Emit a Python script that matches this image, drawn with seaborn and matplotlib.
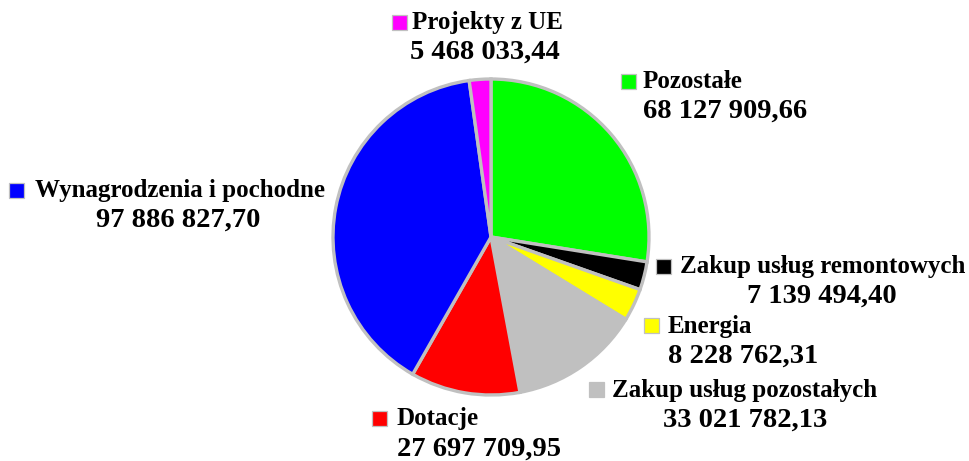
import matplotlib
matplotlib.use('Agg')
import matplotlib.pyplot as plt
from matplotlib.patches import Rectangle
import seaborn as sns

sns.set_theme(style='white')
plt.rcParams['font.family'] = ['Liberation Serif', 'DejaVu Serif']

categories = ['Pozostałe', 'Zakup usług remontowych', 'Energia', 'Zakup usług pozostałych',
              'Dotacje', 'Wynagrodzenia i pochodne', 'Projekty z UE']
values = [68127909.66, 7139494.40, 8228762.31, 33021782.13, 27697709.95, 97886827.70, 5468033.44]
colors = ['#00ff00', '#000000', '#ffff00', '#c0c0c0', '#ff0000', '#0000ff', '#ff00ff']

# label layout in pixel coordinates (from top-left): marker x, name left x, line-1 y, value x, line-2 y, value alignment
label_layout = {
    'Pozostałe':                (629, 643, 81, 643, 111, 'left'),
    'Zakup usług remontowych':  (664, 680, 266, 822, 296, 'center'),
    'Energia':                  (652, 668, 326, 668, 356, 'left'),
    'Zakup usług pozostałych':  (597, 612, 390, 745, 420, 'center'),
    'Dotacje':                  (380, 397, 419, 397, 449, 'left'),
    'Wynagrodzenia i pochodne': (17, 35, 190, 178, 220, 'center'),
    'Projekty z UE':            (400, 412, 22, 485, 52, 'center'),
}

W, H = 970, 461
fig = plt.figure(figsize=(W / 100, H / 100), dpi=100)
ax = fig.add_axes([0, 0, 1, 1])
ax.pie(values, colors=colors, startangle=90, counterclock=False,
       center=(491, H - 237), radius=158,
       wedgeprops=dict(edgecolor='#c0c0c0', linewidth=2.4))
ax.set_xlim(0, W)
ax.set_ylim(0, H)
ax.set_aspect('equal')
ax.axis('off')


def fmt(v):
    return f"{v:,.2f}".replace(',', ' ').replace('.', ',')


for cat, val, col in zip(categories, values, colors):
    mx, nx, y1, vx, y2, ha = label_layout[cat]
    ax.add_patch(Rectangle((mx - 7.5, H - y1 - 7.5), 15, 15, facecolor=col,
                           edgecolor='#c0c0c0', linewidth=0.9, zorder=3))
    ax.text(nx, H - y1, cat, ha='left', va='center', fontsize=18,
            fontweight='bold', color='black')
    ax.text(vx, H - y2, fmt(val), ha=ha, va='center', fontsize=20.5,
            fontweight='bold', color='black')

fig.savefig('out.png', dpi=100, facecolor='white')
